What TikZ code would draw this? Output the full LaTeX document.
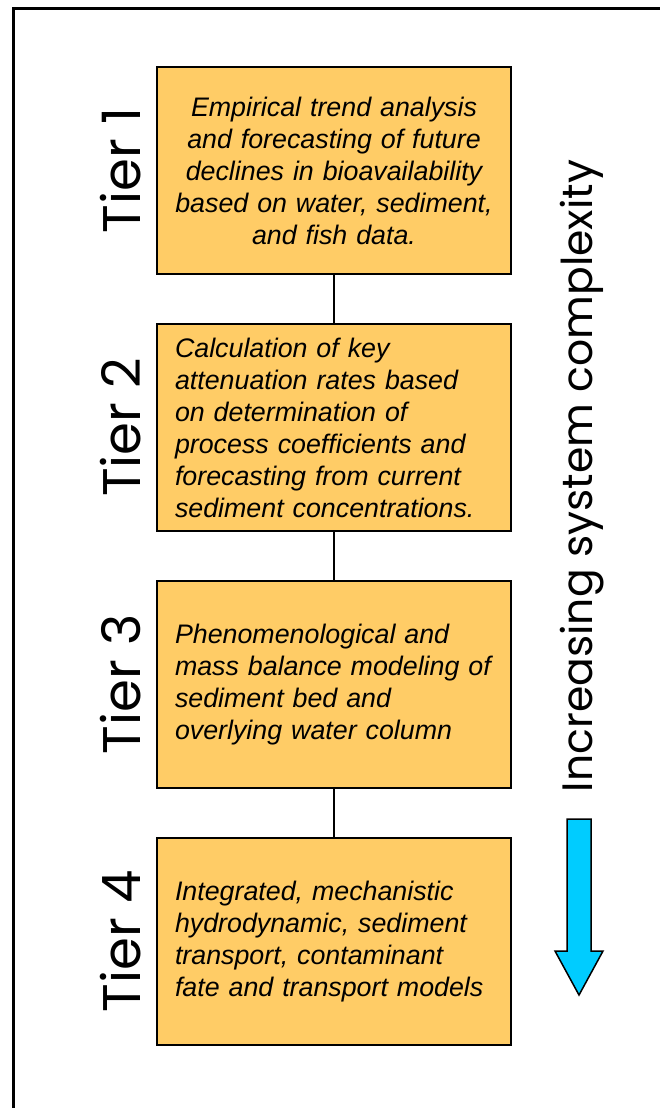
\documentclass[tikz,border=0pt]{standalone}
\usepackage{fontspec}
\setmainfont{Liberation Sans}
\newfontfamily\gothic{Poppins}
\usetikzlibrary{positioning}
\definecolor{boxfill}{RGB}{255,204,102}
\definecolor{arrowfill}{RGB}{0,204,255}
\newcommand{\ind}{\hspace*{8pt}}

\begin{document}
\begin{tikzpicture}[x=1pt,y=-1pt,
	tierbox/.style={draw,line width=2pt,fill=boxfill,minimum width=354pt,minimum height=207pt,
		text width=334pt,inner xsep=10pt,font=\itshape\fontsize{26.8}{32}\selectfont},
	tierlabel/.style={rotate=90,anchor=base,inner sep=0pt,font=\gothic\fontsize{53}{60}\selectfont}]
	\clip (0,0) rectangle (660,1108);
	\draw[line width=3pt] (13,9) rectangle (700,1150);
	% the four tiers
	\node[tierbox,align=center] (b1) at (334,170.5) {Empirical trend analysis\\ and forecasting of future\\ declines in bioavailability\\ based on water, sediment,\\ and fish data.};
	\node[tierbox,align=left,below=48pt of b1] (b2) {\ind Calculation of key\\ \ind attenuation rates based\\ \ind on determination of\\ \ind process coefficients and\\ \ind forecasting from current\\ \ind sediment concentrations.};
	\node[tierbox,align=left,below=48pt of b2] (b3) {\ind Phenomenological and\\ \ind mass balance modeling of\\ \ind sediment bed and\\ \ind overlying water column};
	\node[tierbox,align=left,below=48pt of b3] (b4) {\ind Integrated, mechanistic\\ \ind hydrodynamic, sediment\\ \ind transport, contaminant\\ \ind fate and transport models};
	\draw[line width=1.5pt] (b1) -- (b2);
	\draw[line width=1.5pt] (b2) -- (b3);
	\draw[line width=1.5pt] (b3) -- (b4);
	\node[tierlabel] (t1) at (140,0 |- b1) {Tier 1};
	\node[tierlabel] (t2) at (140,0 |- b2) {Tier 2};
	\node[tierlabel] (t3) at (140,0 |- b3) {Tier 3};
	\node[tierlabel] (t4) at (140,0 |- b4) {Tier 4};
	% complexity axis
	\node[rotate=90,anchor=base,inner sep=0pt,font=\gothic\fontsize{42.5}{48}\selectfont] (incr) at (592,476) {Increasing system complexity};
	\draw[line width=1.5pt,fill=arrowfill] (567,819) -- (591,819) -- (591,951) -- (603,951) -- (579,995) -- (555,951) -- (567,951) -- cycle;
\end{tikzpicture}
\end{document}
